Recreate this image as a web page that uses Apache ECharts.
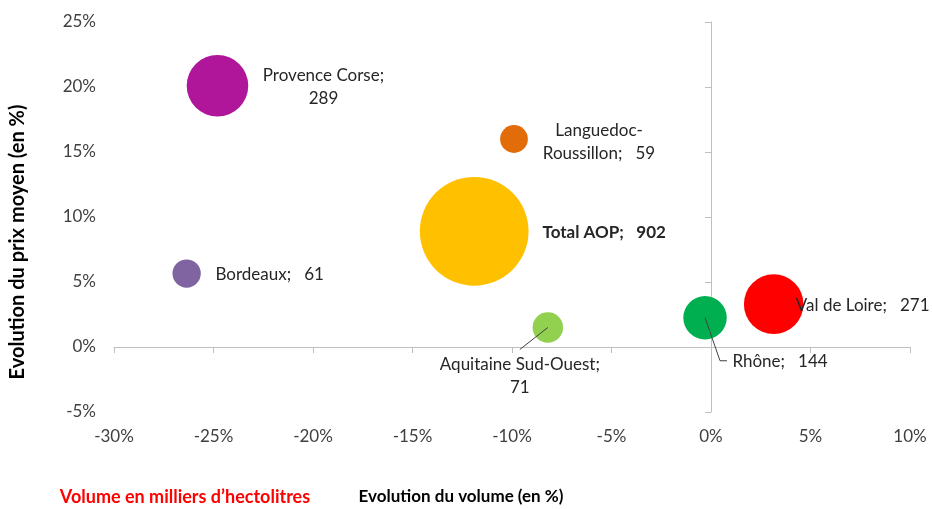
<!DOCTYPE html>
<html>
<head>
<meta charset="utf-8">
<script src="https://cdn.jsdelivr.net/npm/echarts@6/dist/echarts.min.js"></script>
<style>
  html, body { margin: 0; padding: 0; background: #fff; }
  #main { width: 933px; height: 509px; }
</style>
</head>
<body>
<div id="main"></div>
<script>
// regions, evolution du volume (%), evolution du prix moyen (%), volume (milliers d'hl)
var regions = ['Provence Corse', 'Languedoc-Roussillon', 'Total AOP', 'Bordeaux', 'Aquitaine Sud-Ouest', 'Rhône', 'Val de Loire'];
var volEvol = [-24.8, -9.9, -11.9, -26.35, -8.2, -0.3, 3.15];
var prixEvol = [20.1, 16.0, 8.9, 5.65, 1.5, 2.25, 3.3];
var volumes = [289, 59, 902, 61, 71, 144, 271];
var colors = ['#B0169A', '#E36C0A', '#FFC000', '#8064A2', '#92D050', '#00B050', '#FF0000'];
var labelTexts = ['Provence Corse;\n289', 'Languedoc-\nRoussillon;   59', 'Total AOP;   902', 'Bordeaux;   61', 'Aquitaine Sud-Ouest;\n71', 'Rhône;   144', 'Val de Loire;   271'];
// label shift from bubble centre (px)
var labelShift = [[106, 1], [85, 3], [130, 1], [83, 1], [-28, 49], [75, 44], [89, 1]];
// leader line bends, relative to bubble centre (px), for the moved labels
var leaders = { 4: [[0, 0], [-28, 22]], 5: [[0, 0], [15, 43], [22, 43]] };

var xTicks = { min: -30, max: 10, interval: 5 };
var yTicks = { min: -5, max: 25, interval: 5 };

var font = 'Lato, "Open Sans", sans-serif';
var chart = echarts.init(document.getElementById('main'));

var series = regions.map(function (name, i) {
  return {
    name: name,
    type: 'scatter',
    xAxisIndex: 0,
    yAxisIndex: 0,
    data: [[volEvol[i], prixEvol[i], volumes[i]]],
    symbolSize: function (d) { return 3.62 * Math.sqrt(d[2]); },
    itemStyle: { color: colors[i], opacity: 1 },
    label: {
      show: true,
      position: 'inside',
      formatter: labelTexts[i],
      color: '#262626',
      fontFamily: font,
      fontSize: 17,
      fontWeight: i === 2 ? 'bold' : 'normal',
      lineHeight: 23,
      align: 'center'
    },
    labelLayout: { dx: labelShift[i][0], dy: labelShift[i][1] },
    emphasis: { disabled: true }
  };
});

var titles = [
  {
    id: 'ytitle', type: 'text', x: 18, y: 242, rotation: Math.PI / 2,
    style: { text: 'Evolution du prix moyen (en %)', font: 'bold 20px ' + font, fill: '#000', align: 'center', verticalAlign: 'middle' }
  },
  {
    id: 'xtitle', type: 'text', x: 461, y: 497,
    style: { text: 'Evolution du volume (en %)', font: 'bold 17px ' + font, fill: '#000', align: 'center', verticalAlign: 'middle' }
  },
  {
    id: 'unit', type: 'text', x: 185, y: 497,
    style: { text: 'Volume en milliers d’hectolitres', font: 'bold 18px ' + font, fill: '#FF0000', align: 'center', verticalAlign: 'middle' }
  }
];

chart.setOption({
  animation: false,
  textStyle: { fontFamily: font },
  grid: { left: 114, right: 23, top: 22, bottom: 97 },
  xAxis: [
    {
      type: 'value', min: xTicks.min, max: xTicks.max, interval: xTicks.interval,
      position: 'bottom',
      axisLine: { show: false }, axisTick: { show: false }, splitLine: { show: false },
      axisLabel: { formatter: '{value}%', color: '#404040', fontSize: 17, margin: 16, fontFamily: font }
    },
    {
      type: 'value', min: xTicks.min, max: xTicks.max, interval: xTicks.interval,
      position: 'top',
      axisLine: { show: true, onZero: true, lineStyle: { color: '#BFBFBF', width: 1 } },
      axisTick: { show: true, inside: true, length: 6, lineStyle: { color: '#BFBFBF' } },
      axisLabel: { show: false }, splitLine: { show: false }
    }
  ],
  yAxis: [
    {
      type: 'value', min: yTicks.min, max: yTicks.max, interval: yTicks.interval,
      position: 'left',
      axisLine: { show: false }, axisTick: { show: false }, splitLine: { show: false },
      axisLabel: { formatter: '{value}%', color: '#404040', fontSize: 17, margin: 18, fontFamily: font }
    },
    {
      type: 'value', min: yTicks.min, max: yTicks.max, interval: yTicks.interval,
      position: 'left',
      axisLine: { show: true, onZero: true, lineStyle: { color: '#BFBFBF', width: 1 } },
      axisTick: { show: true, length: 6, lineStyle: { color: '#BFBFBF' } },
      axisLabel: { show: false }, splitLine: { show: false }
    }
  ],
  series: series
});

// leader lines start at the bubble centre, placed through the chart's own scales
var leaderGraphics = Object.keys(leaders).map(function (k) {
  var i = +k;
  var c = chart.convertToPixel({ seriesIndex: i }, [volEvol[i], prixEvol[i]]);
  return {
    id: 'leader' + k, type: 'polyline', z: 100, silent: true,
    shape: { points: leaders[k].map(function (p) { return [c[0] + p[0], c[1] + p[1]]; }) },
    style: { stroke: '#404040', lineWidth: 1, fill: null }
  };
});
chart.setOption({ graphic: titles.concat(leaderGraphics) });
</script>
</body>
</html>
